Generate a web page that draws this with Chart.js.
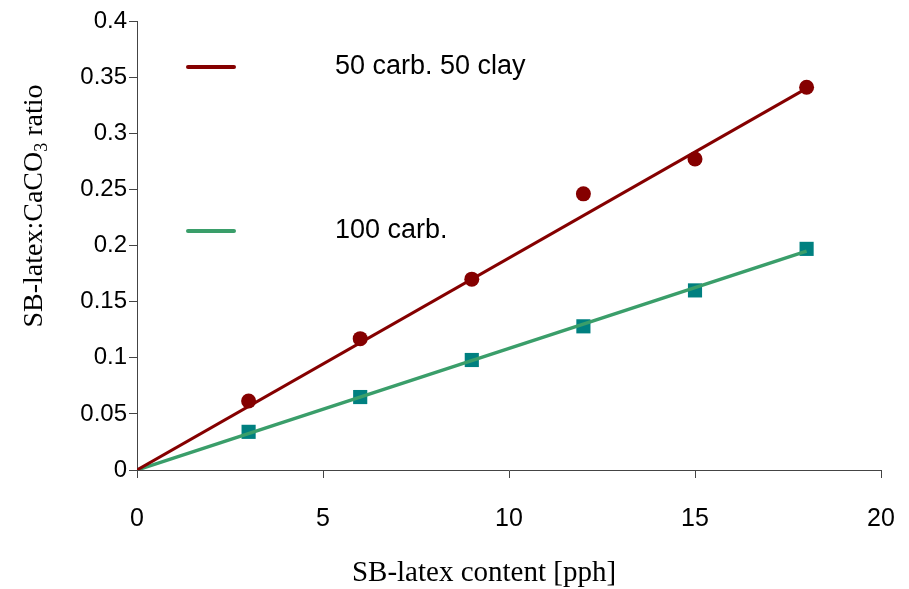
<!DOCTYPE html>
<html>
<head>
<meta charset="utf-8">
<script src="https://cdn.jsdelivr.net/npm/chart.js@4/dist/chart.umd.min.js"></script>
<style>
  html, body { margin: 0; padding: 0; background: #fff; }
  #wrap { width: 909px; height: 589px; position: relative; }
</style>
</head>
<body>
<div id="wrap"><canvas id="chart"></canvas></div>
<script>
// Données
const latexContent = [3, 6, 9, 12, 15, 18];
const ratioCarbClay = [0.0615, 0.117, 0.170, 0.246, 0.277, 0.341];
const ratioCarb = [0.034, 0.065, 0.098, 0.128, 0.160, 0.197];
const trendX = [0, 18];
const trendCarbClay = [0, 0.340];
const trendCarb = [0, 0.195];
const seriesLabels = ['50 carb. 50 clay', '100 carb.'];
const xTitle = 'SB-latex content [pph]';

const red = '#850000';
const green = '#3a9e6a';
const teal = '#008080';

const toPoints = (xs, ys) => xs.map((x, i) => ({ x: x, y: ys[i] }));

// Légende dessinée dans la zone du graphique + titres des axes
const annotations = {
  id: 'annotations',
  afterDraw(chart) {
    const ctx = chart.ctx;
    ctx.save();
    const legendRows = [
      { color: red, label: seriesLabels[0], y: 67 },
      { color: green, label: seriesLabels[1], y: 231 }
    ];
    legendRows.forEach(row => {
      ctx.strokeStyle = row.color;
      ctx.lineWidth = 4;
      ctx.lineCap = 'round';
      ctx.beginPath();
      ctx.moveTo(188, row.y);
      ctx.lineTo(234, row.y);
      ctx.stroke();
      ctx.fillStyle = '#000';
      ctx.font = '27px "Liberation Sans", Arial, sans-serif';
      ctx.textAlign = 'left';
      ctx.textBaseline = 'middle';
      ctx.fillText(row.label, 335, row.y);
    });

    // Titre axe X
    ctx.font = '29px "Liberation Serif", "Times New Roman", serif';
    ctx.textAlign = 'center';
    ctx.textBaseline = 'middle';
    ctx.fillText(xTitle, 484, 573);

    // Titre axe Y avec indice
    ctx.translate(35, 206);
    ctx.rotate(-Math.PI / 2);
    const big = '28px "Liberation Serif", "Times New Roman", serif';
    const small = '18px "Liberation Serif", "Times New Roman", serif';
    const parts = [
      { t: 'SB-latex:CaCO', f: big, dy: 0 },
      { t: '3', f: small, dy: 7 },
      { t: ' ratio', f: big, dy: 0 }
    ];
    let total = 0;
    parts.forEach(p => { ctx.font = p.f; total += ctx.measureText(p.t).width; });
    let x = -total / 2;
    ctx.textAlign = 'left';
    parts.forEach(p => {
      ctx.font = p.f;
      ctx.fillText(p.t, x, p.dy);
      x += ctx.measureText(p.t).width;
    });
    ctx.restore();
  }
};

new Chart(document.getElementById('chart'), {
  type: 'scatter',
  data: {
    datasets: [
      {
        label: 'trend 1',
        data: toPoints(trendX, trendCarbClay),
        showLine: true,
        borderColor: red,
        borderWidth: 3,
        pointRadius: 0
      },
      {
        label: 'trend 2',
        data: toPoints(trendX, trendCarb),
        showLine: true,
        borderColor: green,
        borderWidth: 3.5,
        pointRadius: 0
      },
      {
        label: seriesLabels[0],
        data: toPoints(latexContent, ratioCarbClay),
        pointStyle: 'circle',
        pointRadius: 7.5,
        backgroundColor: red,
        borderColor: red,
        borderWidth: 0
      },
      {
        label: seriesLabels[1],
        data: toPoints(latexContent, ratioCarb),
        pointStyle: 'rect',
        pointRadius: 10,
        backgroundColor: teal,
        borderColor: teal,
        borderWidth: 0
      }
    ]
  },
  options: {
    responsive: true,
    maintainAspectRatio: false,
    animation: false,
    layout: { padding: { top: 21, right: 28, left: 0, bottom: 0 } },
    plugins: {
      legend: { display: false },
      tooltip: { enabled: false }
    },
    scales: {
      x: {
        type: 'linear',
        min: 0,
        max: 20,
        ticks: {
          stepSize: 5,
          color: '#000',
          padding: 26,
          font: { family: '"Liberation Sans", Arial, sans-serif', size: 25 }
        },
        grid: { drawOnChartArea: false, drawTicks: true, tickLength: 8, color: '#444' },
        border: { color: '#444', width: 1 },
        afterFit: (scale) => {
          scale.height = 119;
          scale.paddingLeft = 0;
          scale.paddingRight = 0;
        }
      },
      y: {
        type: 'linear',
        min: 0,
        max: 0.4,
        ticks: {
          stepSize: 0.05,
          color: '#000',
          padding: 2,
          font: { family: '"Liberation Sans", Arial, sans-serif', size: 24 },
          callback: (v) => String(Math.round(v * 100) / 100)
        },
        grid: { drawOnChartArea: false, drawTicks: true, tickLength: 8, color: '#444' },
        border: { color: '#444', width: 1 },
        afterFit: (scale) => { scale.width = 137; }
      }
    }
  },
  plugins: [annotations]
});
</script>
</body>
</html>
